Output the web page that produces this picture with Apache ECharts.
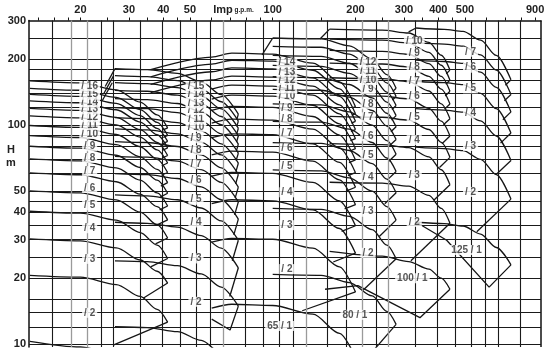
<!DOCTYPE html>
<html><head><meta charset="utf-8">
<script src="https://cdn.jsdelivr.net/npm/echarts@6/dist/echarts.min.js"></script>
<style>html,body{margin:0;padding:0;background:#fff}#c{width:556px;height:359px}</style>
</head><body><div id="c"></div>
<script>
// ---- axes / grid values ----
const xLabelValues = [20,30,40,50,72,100,200,300,400,500,900];
const xTickValues = [14,16,18,20,25,30,35,40,45,50,60,70,80,90,100,150,200,250,300,350,400,450,500,600,700,800,900];
const yLabelValues = [10,20,30,40,50,100,200,300];
const hLines = [10,12,14,16,20,25,30,35,40,45,50,60,70,80,90,100,120,140,160,180,200,250];
const vLinesBlack = [15.8,23.8,26.4,33,39.6,46.2,52.8,59.4,79.2,92.4,105.6,118.8,158.4,184.8,237.6,330,396,462,528,594,660,792];
const vLinesGray = [18.5,21.1,66,132,211.2,264];

// ---- family A ----
const famA_q = [13.1,20,27,33,38,41.5];
const famA_top = [
 [10.3,9.7,9.0,8.0,7.0,6.2],
 [20.6,20.2,18.7,16.5,14.4,12.6],
 [30.2,29.6,27.5,24.2,21.5,19.0],
 [40.4,39.6,36.8,32.3,28.3,24.6],
 [50,49,45.5,40,35,30.5],
 [60.5,59.3,55.1,48.4,42.4,36.9],
 [70,68.6,63.7,56,49,42.7],
 [80,78.4,72.8,64,56,48.8],
 [89.5,87.7,81.4,71.6,62.7,54.6],
 [99.5,97.5,90.5,79.6,69.7,60.7],
 [110,107.8,100.1,88,77,67.1],
 [119,116.6,108.3,95.2,83.3,72.6],
 [129,126.4,117.4,103.2,90.3,78.7],
 [138,135.2,125.6,110.4,96.6,84.2],
 [147,144.1,133.8,117.6,102.9,89.7],
 [159,155.8,144.7,127.2,111.3,97]
];
const famA_edges = [
 [],
 [[41.5,12.6],[26.3,9.9]],
 [[41.5,19.0],[33.8,16.2]],
 [[41.5,24.6],[36,22.5]],
 [[41.5,30.5],[37.5,28.7]],
 [[41.5,36.9],[38,35]],
 [[41.5,42.7],[38.8,41]],
 [[41.5,48.8],[39,46.9]],
 [[41.5,54.6],[39.2,52.6]],
 [[41.5,60.7],[39.4,59]],
 [[41.5,67.1],[39.5,65.2]],
 [[41.5,72.6],[39.7,70.7]],
 [[41.5,78.7],[39.8,76.7]],
 [[41.5,84.2],[39.9,82.2]],
 [[41.5,89.7],[40,87.7]],
 [[41.5,97],[40,95]]
];
const famA_labelQ = 21.6;
const famA_labelStages = [2,3,4,5,6,7,8,9,10,11,12,13,14,15,16];
const famA_labelH = [13.9,24.5,33.8,43,51.6,61.6,70.7,80,91,100,108.6,118,127,137.5,150.5];

// ---- family B ----
const famB_q = [26.7,35,45,55,65,75];
const famB_top = [
 [12,11.9,11.4,10.4,9.1,7.4],
 [24,23.8,22.8,20.9,18.2,14.9],
 [36,35.6,34.2,31.3,27.4,22.3],
 [48,47.5,45.6,41.8,36.5,29.8],
 [60,59.4,57,52.2,45.6,37.2],
 [72,71.3,68.4,62.6,54.7,44.6],
 [84,83.2,79.8,73.1,63.8,52.1],
 [96,95,91.2,83.5,73,59.5],
 [108,106.9,102.6,94,82.1,67],
 [120,118.8,114,104.4,91.2,74.4],
 [132,130.7,125.4,114.8,100.3,81.8],
 [144,142.6,136.8,125.3,109.4,89.3],
 [156,154.4,148.2,135.7,118.6,96.7],
 [168,166.3,159.6,146.2,127.7,104.2],
 [181,179.2,172,157.5,137.6,112.2]
];
const famB_edges = [
 [],
 [[75,14.9],[70,11.6],[60,13]],
 [[75,22.3],[69.8,16.5]],
 [[75,29.8],[71.3,24.0]],
 [[75,37.2],[72.2,31.5]],
 [[75,44.6],[72.7,38.9]],
 [[75,52.1],[73,46.4]],
 [[75,59.5],[73.3,53.8]],
 [[75,67],[73.5,61.3]],
 [[75,74.4],[73.6,68.7]],
 [[75,81.8],[73.8,76.2]],
 [[75,89.3],[73.9,83.7]],
 [[75,96.7],[74,91.1]],
 [[75,104.2],[74,98.6]],
 [[75,112.2],[74,106]]
];
const famB_corners = [
 [[24,129],[26.1,156]],
 [[24.3,139],[26.4,168]],
 [[24.6,150],[26.7,181]]
];
const famB_labelQ = 52.6;
const famB_labelStages = [2,3,4,5,6,7,8,9,10,11,12,13,14,15];
const famB_labelH = [15.6,24.6,35.9,45.6,55.8,66.3,76.9,87,98,106,117,125.5,138,150.5];

// ---- family C (65) ----  (null = curve not drawn there)
const famC_q = [36,60,71,100,140,175,200];
const famC_top = [
 [null,14.6,15.2,15.0,13.7,11.2,8.7],
 [null,29.2,30.4,30.1,27.4,22.5,17.3],
 [null,43.8,45.6,45.1,41,33.7,26],
 [null,58.4,60.8,60.2,54.7,45,34.7],
 [null,73,76,75.2,68.4,56.2,43.3],
 [null,87.6,91.2,90.3,82.1,67.5,52],
 [null,102.1,106.4,105.3,95.8,78.7,60.6],
 [null,116.7,121.6,120.4,109.4,90,69.3],
 [null,131.3,136.8,135.4,123.1,101.2,78],
 [null,145.9,152,150.5,136.8,112.5,86.6],
 [140.4,160.5,167.2,165.5,150.5,123.7,95.3],
 [153.2,175.1,182.4,180.6,164.2,135,104],
 [166,189.7,197.6,195.6,177.8,146.2,112.6],
 [178.8,204.3,212.8,210.7,191.5,157.5,121.3]
];
const famC_edges = [
 [],
 [[200,17.3],[128,14.2]],
 [[200,26],[166,23.7]],
 [[200,34.7],[178,32.7]],
 [[200,43.3],[182.6,41.4]],
 [[200,52],[185.7,50.1]],
 [[200,60.6],[187.8,58.7]],
 [[200,69.3],[189.3,67.4]],
 [[200,78],[190.6,76.1]],
 [[200,86.6],[191.6,84.8]],
 [[200,95.3],[192.4,93.5]],
 [[200,104],[193.1,102.1]],
 [[200,112.6],[193.7,110.8]],
 [[200,121.3],[194.2,119.5]]
];
const famC_labelQ = 112.6;
const famC_labelStages = [2,3,4,5,6,7,8,9,10,11,12,13,14];
const famC_labelH = [22,34.9,49.3,64.5,78.3,91.7,106.5,119,135.6,147,160.5,175,192.5];

// ---- family D (80) ----
const famD_q = [100,150,190,230,260,281];
const famD_top = [
 [20.8,20.6,19.1,16.6,14.1,12.3],
 [41.6,41.2,38.3,33.3,28.3,24.5],
 [62.4,61.8,57.4,49.9,42.4,36.8],
 [83.2,82.4,76.5,66.6,56.6,49.1],
 [104,103,95.7,83.2,70.7,61.4],
 [124.8,123.6,114.8,99.8,84.9,73.6],
 [145.6,144.1,134,116.5,99,85.9],
 [166.4,164.7,153.1,133.1,113.2,98.2],
 [187.2,185.3,172.2,149.8,127.3,110.4],
 [208,205.9,191.4,166.4,141.4,122.7],
 [228.8,226.5,210.5,183,155.6,135],
 [249.6,247.1,229.6,199.7,169.7,147.3]
];
const famD_edges = [
 [[281,12.3],[235,9.5]],
 [[281,24.5],[213,17.6]],
 [[281,36.8],[244,31]],
 [[281,49.1],[255.5,43.7]],
 [[281,61.4],[261,56.2]],
 [[281,73.6],[264.5,68.4]],
 [[281,85.9],[267,80.8]],
 [[281,98.2],[268.9,93.2]],
 [[281,110.4],[270.3,105.3]],
 [[281,122.7],[271.4,117.7]],
 [[281,135],[272.3,130]],
 [[281,147.3],[273.1,142.3]]
];
const famD_corner = [[91.5,209],[100,249.6]];
const famD_labelQ = 222;
const famD_labelStages = [2,3,4,5,6,7,8,9,10,11,12];
const famD_labelH = [26.1,40.2,58,73,89,108.5,124.5,145.6,160.5,176.5,193];

// ---- family E (100) ----
const famE_q = [161,250,312,370,410,441];
const famE_top = [
 [26.5,25.2,23.8,22,20,17.8],
 [54.8,54.3,52.6,47.7,41.6,35.6],
 [82.2,81.4,78.9,71.5,62.5,53.4],
 [109.6,108.5,105.2,95.4,83.3,71.2],
 [137,135.6,131.5,119.2,104.1,89.1],
 [164.4,162.8,157.8,143,124.9,106.9],
 [191.8,189.9,184.1,166.9,145.8,124.7],
 [219.2,217,210.4,190.7,166.6,142.5],
 [246.6,244.1,236.7,214.5,187.4,160.3],
 [274,271.3,263,238.4,208.2,178.1]
];
const famE_edges = [
 [[441,17.8],[343,13.2],[204,18.5],[155,17.8]],
 [[441,35.6],[318,24]],
 [[441,53.4],[386,45.5]],
 [[441,71.2],[404,64]],
 [[441,89.1],[412.5,82.2]],
 [[441,106.9],[417.6,100.2]],
 [[441,124.7],[421.2,118]],
 [[441,142.5],[423.8,135.8]],
 [[441,160.3],[425.8,153.6]],
 [[441,178.1],[427.5,171.5]]
];
const famE_corner = [[148.6,247],[161,274]];
const famE_labelQ = 327;
const famE_labelStages = [2,3,4,5,6,7,8,9,10];
const famE_labelH = [36.1,59,85.4,108.5,135,158,182.6,212.5,240];

// ---- family F (125) ----
const famF_q = [332,420,492,570,650,735];
const famF_top = [
 [36,35.5,34.6,31.8,27.6,23],
 [79.2,78,76.4,69.7,59.4,45.9],
 [118.8,117,114.6,104.5,89.1,68.9],
 [158.4,156,152.9,139.4,118.8,91.9],
 [198,195,191.1,174.2,148.5,114.8],
 [237.6,234,229.3,209.1,178.2,137.8],
 [277.2,273,267.5,243.9,207.9,160.8]
];
const famF_edges = [
 [[735,23],[612,18.2],[429,29.8],[333,36]],
 [[735,45.9],[552,32.6]],
 [[735,68.9],[649,59.4]],
 [[735,91.9],[673.5,82.7]],
 [[735,114.8],[686.7,105.8]],
 [[735,137.8],[695.4,129]],
 [[735,160.8],[701.4,152]]
];
const famF_corner = [[312,266],[332,277.2]];
const famF_labelQ = 524;
const famF_labelStages = [2,3,4,5,6,7];
const famF_labelH = [49.5,80.2,113,147,182.6,216];

// single-stage model labels
const modelNames = ['65 / 1','80 / 1','100 / 1','125 / 1'];
const modelQ = [106,199,322,507];
const modelH = [12.1,13.6,20,26.9];

// ---- build ----
const INK = '#151515';
const series = [];
function addCurve(q,row){
  const pts = [];
  q.forEach((x,i)=>{ if(row[i]!==null) pts.push([x,row[i]]); });
  series.push({type:'line',data:pts,smooth:0.3,smoothMonotone:'x',symbol:'none',
    lineStyle:{color:INK,width:1.3},silent:true,animation:false,z:3});
}
function addEdge(pts){
  if(!pts.length) return;
  series.push({type:'line',data:pts,symbol:'none',lineStyle:{color:INK,width:1.3},silent:true,animation:false,z:3});
}
const labelStyle = {show:true,position:'inside',formatter:p=>p.name,color:'#2a2a2a',fontSize:10,fontWeight:'bold',
      fontFamily:'Liberation Sans, Arial',backgroundColor:'#fff',padding:[0,2]};
function addLabels(q,stages,hs){
  series.push({type:'scatter',symbolSize:0,silent:true,animation:false,z:10,
    data:hs.map((h,i)=>({value:[q,h],name:'/ '+stages[i]})),label:labelStyle});
}
const fams = [
 [famA_q,famA_top,famA_edges,famA_labelQ,famA_labelStages,famA_labelH],
 [famB_q,famB_top,famB_edges,famB_labelQ,famB_labelStages,famB_labelH],
 [famC_q,famC_top,famC_edges,famC_labelQ,famC_labelStages,famC_labelH],
 [famD_q,famD_top,famD_edges,famD_labelQ,famD_labelStages,famD_labelH],
 [famE_q,famE_top,famE_edges,famE_labelQ,famE_labelStages,famE_labelH],
 [famF_q,famF_top,famF_edges,famF_labelQ,famF_labelStages,famF_labelH]
];
fams.forEach(f=>{
  f[1].forEach(row=>addCurve(f[0],row));
  f[2].forEach(e=>addEdge(e));
  addLabels(f[3],f[4],f[5]);
});
famB_corners.forEach(addEdge);
[famD_corner,famE_corner,famF_corner].forEach(addEdge);
series.push({type:'scatter',symbolSize:0,silent:true,animation:false,z:10,
  data:modelNames.map((n,i)=>({value:[modelQ[i],modelH[i]],name:n})),label:labelStyle});
// grid lines
series.push({type:'line',data:[],silent:true,animation:false,z:1,
  markLine:{silent:true,symbol:'none',animation:false,label:{show:false},
    data:[].concat(
      hLines.map(v=>({yAxis:v,lineStyle:{color:'#1a1a1a',width:1.1,type:'solid'}})),
      vLinesBlack.map(v=>({xAxis:v,lineStyle:{color:'#1a1a1a',width:1.1,type:'solid'}})),
      vLinesGray.map(v=>({xAxis:v,lineStyle:{color:'#9a9a9a',width:1.3,type:'solid'}}))
    )}});

const chart = echarts.init(document.getElementById('c'),null,{renderer:'canvas'});
chart.setOption({
  animation:false,
  backgroundColor:'#fff',
  grid:{left:29,right:15,top:20.5,bottom:12,containLabel:false},
  xAxis:{type:'log',position:'top',min:13,max:945,
    axisLine:{show:true,lineStyle:{color:'#111',width:1.5}},
    axisTick:{show:true,inside:false,length:3,customValues:xTickValues,lineStyle:{color:'#111',width:1}},
    axisLabel:{show:true,customValues:xLabelValues,margin:5,color:'#222',fontSize:11,fontWeight:'bold',fontFamily:'Liberation Sans, Arial',
      formatter:v=>Math.round(v)===72?'{a|Imp}{b| g.p.m.}':String(Math.round(v)),
      rich:{a:{fontSize:11,fontWeight:'bold',color:'#222',fontFamily:'Liberation Sans, Arial'},b:{fontSize:6.5,fontWeight:'bold',color:'#222',fontFamily:'Liberation Sans, Arial'}}},
    splitLine:{show:false}},
  yAxis:{type:'log',min:9.7,max:300,
    axisLine:{show:true,lineStyle:{color:'#111',width:1.5}},
    axisTick:{show:false},
    axisLabel:{show:true,customValues:yLabelValues,margin:3,color:'#222',fontSize:11,fontWeight:'bold',fontFamily:'Liberation Sans, Arial'},
    splitLine:{show:false}},
  graphic:[
    {type:'text',left:7,top:144,style:{text:'H',font:'bold 11px Liberation Sans, Arial',fill:'#222'}},
    {type:'text',left:6,top:157,style:{text:'m',font:'bold 11px Liberation Sans, Arial',fill:'#222'}},
    {type:'line',shape:{x1:541,y1:20.5,x2:541,y2:347},style:{stroke:'#111',lineWidth:1.5}}
  ],
  series:series
});
</script></body></html>
